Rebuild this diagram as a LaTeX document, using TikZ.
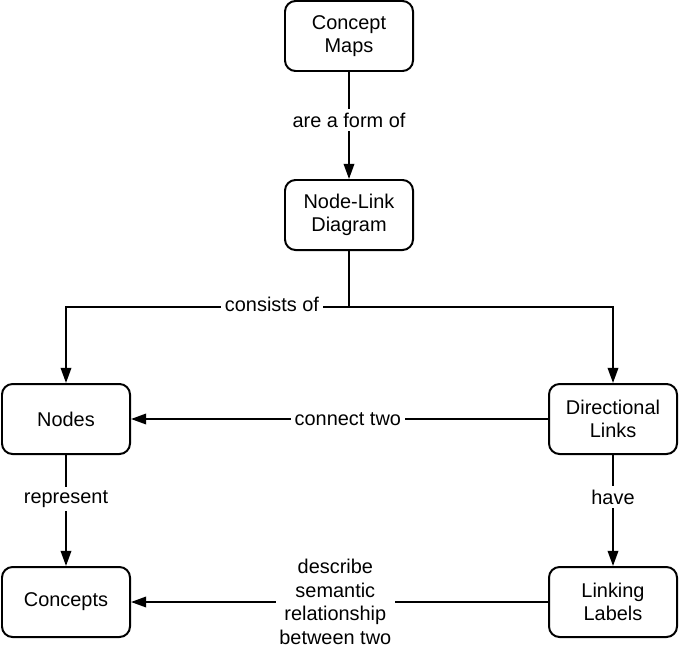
\documentclass[tikz,border=0pt]{standalone}
\usepackage{fontspec}
\setmainfont{Liberation Sans}
\usetikzlibrary{arrows.meta}

\begin{document}
\begin{tikzpicture}[->,>={Stealth[length=13pt,width=9pt,inset=0pt]}
  ,x=0.03cm,y=-0.03cm
  ,line width=1.7pt
  ,font=\fontsize{17}{20}\selectfont]
  \tikzstyle{concept}=[draw,-,rounded corners=9pt,align=center,
  minimum width=3.84cm,minimum height=2.1cm,line width=1.7pt]
  \tikzstyle{lbl}=[fill=white,align=center,inner sep=3pt]
  \useasboundingbox (0,0) rectangle (685,647);

  % concepts
  \node[concept](maps) at (349,36) {Concept\\Maps};
  \node[concept](nld) at (349,215) {Node-Link\\Diagram};
  \node[concept](nodes) at (66,419) {Nodes};
  \node[concept](dirl) at (613,419) {Directional\\Links};
  \node[concept](cpts) at (66,602) {Concepts};
  \node[concept](llab) at (613,602) {Linking\\Labels};

  \coordinate (split) at (349,307);

  % links
  \path (maps) edge node[lbl,pos=.45] {are a form of} (nld);
  \draw[-] (nld) -- (split);
  \draw (split) -| (nodes);
  \draw (split) -| (dirl);
  \node[lbl] at (272,304) {consists of};
  \path (dirl) edge node[lbl,pos=.48] {connect two} (nodes)
  (nodes) edge node[lbl,pos=.4] {represent} (cpts)
  (dirl) edge node[lbl,pos=.38] {have} (llab)
  (llab) edge node[lbl,pos=.51] {describe\\semantic\\relationship\\between two} (cpts);
\end{tikzpicture}
\end{document}
